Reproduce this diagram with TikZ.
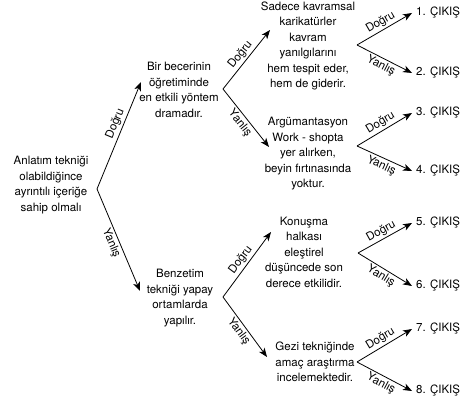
\documentclass[tikz,border=0pt]{standalone}
\usepackage{fontspec}
\setmainfont{TeX Gyre Heros}
\usetikzlibrary{arrows.meta}

\begin{document}
\begin{tikzpicture}[x=1pt, y=-1pt,
  claim/.style={align=center, inner sep=2pt,
                font=\fontsize{11.5}{15.5}\selectfont},
  exit/.style={anchor=west, inner sep=4pt,
               font=\fontsize{11.5}{14}\selectfont},
  branch/.style={-{Stealth[length=9pt, width=7pt, inset=2.5pt]}, line width=0.8pt},
  dogru/.style={pos=0.55, above, sloped, inner sep=2pt,
                font=\fontsize{11.5}{13}\selectfont},
  yanlis/.style={pos=0.5, below, sloped, inner sep=2pt,
                 font=\fontsize{11.5}{13}\selectfont}
]
\useasboundingbox (0,0) rectangle (468,403);

% statements
\node[claim] (root) at (51,185)
  {Anlatım tekniği\\olabildiğince\\ayrıntılı içeriğe\\sahip olmalı};
\node[claim] (q1) at (179,90)
  {Bir becerinin\\öğretiminde\\en etkili yöntem\\dramadır.};
\node[claim] (q2) at (180,298)
  {Benzetim\\tekniği yapay\\ortamlarda\\yapılır.};
\node[claim] (q11) at (308,46)
  {Sadece kavramsal\\karikatürler\\kavram\\yanılgılarını\\hem tespit eder,\\hem de giderir.};
\node[claim] (q12) at (308,154)
  {Argümantasyon\\Work - shopta\\yer alırken,\\beyin fırtınasında\\yoktur.};
\node[claim] (q21) at (304,252)
  {Konuşma\\halkası\\eleştirel\\düşüncede son\\derece etkilidir.};
\node[claim] (q22) at (315,362)
  {Gezi tekniğinde\\amaç araştırma\\incelemektedir.};

% exits
\node[exit] (out1) at (412,13) {1. ÇIKIŞ};
\node[exit] (out2) at (412,73) {2. ÇIKIŞ};
\node[exit] (out3) at (412,113) {3. ÇIKIŞ};
\node[exit] (out4) at (412,171) {4. ÇIKIŞ};
\node[exit] (out5) at (412,223) {5. ÇIKIŞ};
\node[exit] (out6) at (412,286) {6. ÇIKIŞ};
\node[exit] (out7) at (412,329) {7. ÇIKIŞ};
\node[exit] (out8) at (412,391) {8. ÇIKIŞ};

% branching points
\coordinate (v0) at (97,189);
\coordinate (v1) at (223,89);
\coordinate (v2) at (223,297);
\coordinate (v11) at (357,45);
\coordinate (v12) at (357,146);
\coordinate (v21) at (358,253);
\coordinate (v22) at (357,362);

\draw[branch] (v0) -- node[dogru, pos=0.58] {Doğru} ([shift={(-38,-8)}]q1.center);
\draw[branch] (v0) -- node[yanlis] {Yanlış} ([shift={(-40,-7)}]q2.center);
\draw[branch] (v1) -- node[dogru, pos=0.5] {Doğru} ([shift={(-38,-16)}]q11.center);
\draw[branch] (v1) -- node[yanlis] {Yanlış} ([shift={(-39,-7)}]q12.center);
\draw[branch] (v2) -- node[dogru, pos=0.5] {Doğru} ([shift={(-33,-20)}]q21.center);
\draw[branch] (v2) -- node[yanlis] {Yanlış} ([shift={(-48,-5)}]q22.center);
\draw[branch] (v11) -- node[dogru, pos=0.5] {Doğru} (out1.west);
\draw[branch] (v11) -- node[yanlis] {Yanlış} (out2.west);
\draw[branch] (v12) -- node[dogru, pos=0.5] {Doğru} (out3.west);
\draw[branch] (v12) -- node[yanlis] {Yanlış} (out4.west);
\draw[branch] (v21) -- node[dogru, pos=0.5] {Doğru} (out5.west);
\draw[branch] (v21) -- node[yanlis] {Yanlış} (out6.west);
\draw[branch] (v22) -- node[dogru, pos=0.5] {Doğru} (out7.west);
\draw[branch] (v22) -- node[yanlis] {Yanlış} (out8.west);
\end{tikzpicture}
\end{document}
